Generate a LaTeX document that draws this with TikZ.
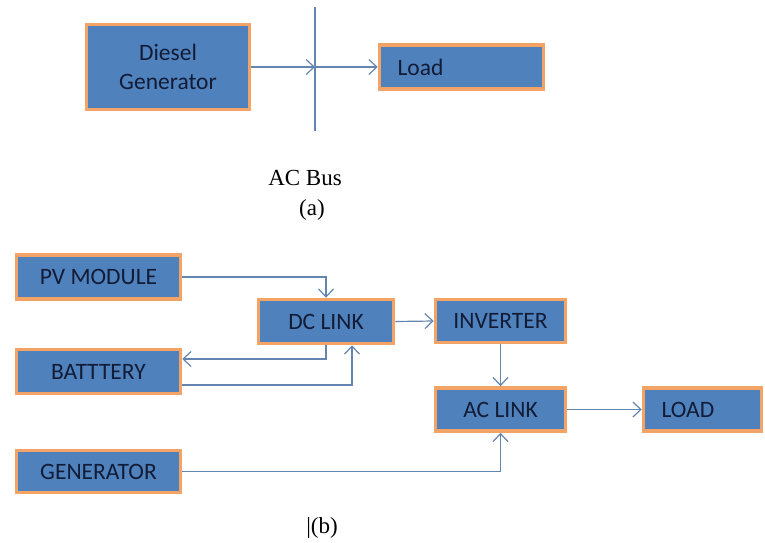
\documentclass[tikz,border=0pt]{standalone}
\usepackage{fontspec}
\usepackage{xcolor}
\usepackage{tikz}
\usetikzlibrary{arrows.meta}
\setmainfont{Liberation Serif}
\newfontfamily\boxfont{Carlito}
\definecolor{boxblue}{HTML}{4F81BD}
\definecolor{boxorange}{HTML}{F4A366}
\definecolor{boxtext}{HTML}{121C36}
\definecolor{wireblue}{HTML}{6485B0}

\tikzset{
    blockbox/.style={draw=boxorange, fill=boxblue, line width=3.5pt, text=boxtext,
        font=\boxfont\fontsize{23.5}{27}\selectfont, inner sep=0pt, align=center},
    wire/.style={draw=wireblue, line width=1.2pt,
        -{Straight Barb[length=8pt, width=15pt, line width=1.2pt]}},
    caption/.style={font=\fontsize{23}{27}\selectfont, text=black}
}

\begin{document}
\begin{tikzpicture}[x=1pt, y=-1pt]
    \useasboundingbox (0,0) rectangle (765,542);

    \node[blockbox, minimum width=163pt, minimum height=85pt] (diesel) at (168,67)
        {Diesel\\[2pt]Generator};
    \node[blockbox, minimum height=44pt, inner xsep=18pt, text width=128pt, align=left]
        (load) at (461.5,67) {Load};
    \coordinate (bustop) at (315,7);
    \coordinate (busbot) at (315,131);
    \coordinate (busmid) at (315,67);
    \draw[draw=wireblue, line width=1.2pt] (bustop) -- (busbot);
    \draw[wire] (diesel.east) -- (busmid);
    \draw[wire] (busmid) -- (load.west);
    \node[caption] (acbus) at (305,178) {AC Bus};
    \node[caption] (capa) at (312,210) {(a)};

    \node[blockbox, minimum width=164pt, minimum height=44pt] (pv) at (98.5,277) {PV MODULE};
    \node[blockbox, minimum width=135pt, minimum height=44pt] (dclink) at (326,321.5) {DC LINK};
    \node[blockbox, minimum width=164pt, minimum height=44pt] (battery) at (98.5,371.5) {BATTTERY};
    \node[blockbox, minimum width=130pt, minimum height=43pt] (inverter) at (500.5,321) {INVERTER};
    \node[blockbox, minimum width=130pt, minimum height=43pt] (aclink) at (500.5,409.5) {AC LINK};
    \node[blockbox, minimum height=43pt, inner xsep=18pt, text width=82pt, align=left]
        (acload) at (702.5,409.5) {LOAD};
    \node[blockbox, minimum width=164pt, minimum height=42pt] (gen) at (98.5,471.5) {GENERATOR};

    \draw[wire] (pv.east) -| (dclink.north);
    \draw[wire] (dclink.south) |- ([yshift=12.5pt]battery.east);
    \draw[wire] ([yshift=-13.5pt]battery.east) -| ([xshift=26pt]dclink.south);
    \draw[wire] (dclink.east) -- (inverter.west);
    \draw[wire] (inverter.south) -- (aclink.north);
    \draw[wire] (aclink.east) -- (acload.west);
    \draw[wire] (gen.east) -| (aclink.south);
    \node[caption] (capb) at (322,528) {|(b)};
\end{tikzpicture}
\end{document}
